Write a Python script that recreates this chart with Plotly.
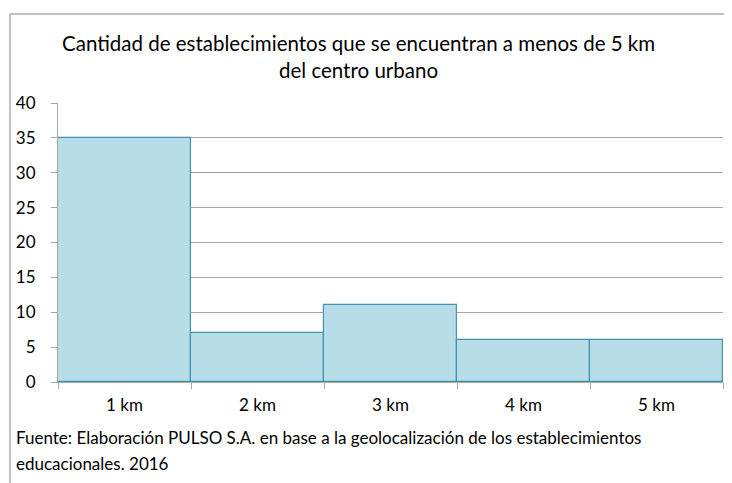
import plotly.graph_objects as go

categories = ["1 km", "2 km", "3 km", "4 km", "5 km"]
counts = [35, 7, 11, 6, 6]

title_lines = [
    "Cantidad de establecimientos que se encuentran a menos de 5 km",
    "del centro urbano",
]
source_lines = [
    "Fuente: Elaboración PULSO S.A. en base a la geolocalización de los establecimientos",
    "educacionales. 2016",
]

# the page body adds an 8px margin, so the figure is drawn 8px smaller
W, H = 724, 475
L, R, T, B = 50, 9, 95, 101
FONT = "Lato"


def px_x(x):
    # pixel -> paper x
    return (x - L) / (W - L - R)


def px_y(y):
    # pixel -> paper y
    return (H - B - y) / (H - T - B)


fig = go.Figure()

fig.add_trace(
    go.Bar(
        x=categories,
        y=counts,
        marker=dict(color="#b7dde8", line=dict(color="#3f94ac", width=1.2)),
        hoverinfo="x+y",
    )
)

fig.update_layout(
    width=W,
    height=H,
    margin=dict(l=L, r=R, t=T, b=B),
    paper_bgcolor="white",
    plot_bgcolor="white",
    bargap=0,
    showlegend=False,
    font=dict(family=FONT, size=17, color="#000000"),
    xaxis=dict(
        type="category",
        tickson="boundaries",
        ticks="outside",
        ticklen=6,
        tickcolor="#a6a6a6",
        showline=True,
        linecolor="#a6a6a6",
        showgrid=False,
        tickfont=dict(size=17),
        ticklabelstandoff=8,
        automargin=False,
    ),
    yaxis=dict(
        range=[0, 40],
        dtick=5,
        ticks="outside",
        ticklen=6,
        tickcolor="#a6a6a6",
        showline=True,
        linecolor="#a6a6a6",
        showgrid=True,
        gridcolor="#a6a6a6",
        zeroline=False,
        tickfont=dict(size=17),
        ticklabelstandoff=12,
        automargin=False,
    ),
)

# outer frame (left and top edges only)
fig.add_shape(type="line", xref="paper", yref="paper",
              x0=px_x(2), x1=px_x(2), y0=px_y(6), y1=px_y(H + 5),
              line=dict(color="#868686", width=1))
fig.add_shape(type="line", xref="paper", yref="paper",
              x0=px_x(2), x1=px_x(W + 5), y0=px_y(6), y1=px_y(6),
              line=dict(color="#868686", width=1))

for i, line in enumerate(title_lines):
    fig.add_annotation(
        text=line, xref="paper", yref="paper",
        x=px_x(350), y=px_y(35 + 27 * i),
        xanchor="center", yanchor="middle", showarrow=False,
        font=dict(family=FONT, size=20.5, color="#000000"),
    )

for i, line in enumerate(source_lines):
    fig.add_annotation(
        text=line, xref="paper", yref="paper",
        x=px_x(6), y=px_y(429 + 26 * i),
        xanchor="left", yanchor="middle", showarrow=False,
        font=dict(family=FONT, size=17, color="#000000"),
    )

fig.write_html("out.html")
